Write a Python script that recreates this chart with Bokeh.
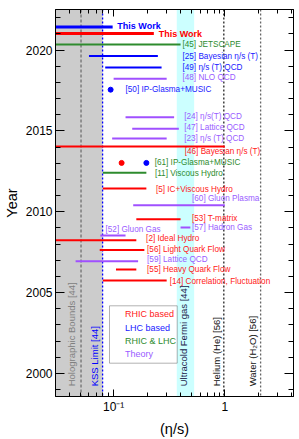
from math import pi
from bokeh.plotting import figure
from bokeh.models import (FixedTicker, CustomJSTickFormatter, LinearAxis, LogAxis,
                          BoxAnnotation, Span, Legend, LegendItem, ColumnDataSource)
from bokeh.core.properties import value
from bokeh.embed import file_html
from bokeh.resources import INLINE

# ---------------- data ----------------
entry_labels = ["This Work", "This Work", "[45] JETSCAPE", "[25] Bayesian η/s (T)",
                "[49] η/s (T) QCD", "[48] NLO QCD", "[24] η/s(T) QCD", "[47] Lattice QCD",
                "[23] η/s (T) QCD", "[46] Bayesian η/s (T)", "[11] Viscous Hydro",
                "[5] IC+Viscous Hydro", "[60] Gluon Plasma", "[53] T-matrix",
                "[57] Hadron Gas", "[52] Gluon Gas", "[2] Ideal Hydro",
                "[56] Light Quark Flow", "[59] Lattice QCD", "[55] Heavy Quark Flow",
                "[14] Correlation, Fluctuation"]
entry_groups = ["LHC", "RHIC", "BOTH", "LHC", "LHC", "TH", "TH", "TH", "TH", "RHIC",
                "BOTH", "RHIC", "TH", "RHIC", "TH", "TH", "RHIC", "RHIC", "TH", "RHIC", "RHIC"]
entry_years = [2021.43, 2021.02, 2020.35, 2019.63, 2018.92, 2018.22, 2015.85, 2015.14,
               2014.53, 2014.04, 2012.41, 2011.43, 2010.40, 2009.53, 2009.02, 2008.53,
               2008.24, 2007.63, 2006.94, 2006.42, 2005.75]
eta_s_low = [0.03, 0.03, 0.03, 0.060, 0.084, 0.100, 0.128, 0.147, 0.097, 0.03, 0.080,
             0.080, 0.150, 0.160, 0.400, 0.076, 0.03, 0.075, 0.0455, 0.105, 0.080]
eta_s_high = [0.098, 0.23, 0.40, 0.25, 0.27, 0.30, 0.35, 0.386, 0.30, 1.0, 0.197,
              0.197, 1.0, 0.40, 0.49, 0.128, 0.16, 0.189, 0.166, 0.16, 0.30]
label_eta_s = [0.108, 0.254, 0.416, 0.416, 0.416, 0.416, 0.431, 0.431, 0.431, 0.436,
               0.235, 0.240, 0.507, 0.507, 0.507, 0.0845, 0.196, 0.20, 0.20, 0.20, 0.319]
label_years = [2021.50, 2021.02, 2020.35, 2019.63, 2018.92, 2018.30, 2015.88, 2015.18,
               2014.53, 2013.71, 2012.39, 2011.38, 2010.81, 2009.59, 2009.04, 2008.93,
               2008.32, 2007.65, 2007.02, 2006.41, 2005.71]

point_groups = ["LHC", "RHIC", "LHC"]
point_years = [2017.55, 2013.02, 2013.02]
point_eta_s = [0.094, 0.118, 0.197]
point_label_texts = ["[50] IP-Glasma+MUSIC", "[61] IP-Glasma+MUSIC"]
point_label_groups = ["LHC", "BOTH"]
point_label_years = [2017.55, 2013.02]
point_label_eta_s = [0.128, 0.234]

ref_names = ["Holographic Bounds [44]", "KSS Limit [44]", "Ultracold Fermi gas [44]",
             "Helium (He) [56]", "Water (H₂O) [56]"]
ref_eta_s = [0.0509, 1.0 / (4 * pi), None, 0.98, 2.1]
fermi_gas_band = (0.37, 0.53)
ref_label_eta_s = [0.0414, 0.0675, 0.422, 0.845, 1.76]
ref_label_year = 1999.2

legend_groups = ["RHIC", "LHC", "BOTH", "TH"]
legend_names = ["RHIC based", "LHC based", "RHIC & LHC", "Theory"]

x_tick_values = [0.1, 1]
x_tick_labels = ["10⁻¹", "1"]
x_minor = [0.04, 0.05, 0.06, 0.07, 0.08, 0.09, 0.2, 0.3, 0.4, 0.5, 0.6, 0.7, 0.8, 0.9, 2, 3, 4]
y_tick_values = [2000, 2005, 2010, 2015, 2020]
y_minor = list(range(1999, 2023))

# ---------------- styles ----------------
line_colors = {"RHIC": "#ff0000", "LHC": "#0000ff", "BOTH": "#2e8b2e", "TH": "#a050ff"}
text_colors = {"RHIC": "#ff2020", "LHC": "#2020ff", "BOTH": "#2e8b2e", "TH": "#9a5cff"}
FONT = "Liberation Sans"

p = figure(width=299, height=439, x_axis_type="log", x_range=(0.03, 4.15),
           y_range=(1998.57, 2022.51), output_backend="svg", toolbar_location=None,
           min_border_left=51, min_border_right=6, min_border_top=9, min_border_bottom=39,
           background_fill_color="white", border_fill_color="white")
p.xgrid.visible = False
p.ygrid.visible = False
p.outline_line_color = "black"

# shaded regions and reference lines
p.add_layout(BoxAnnotation(right=ref_eta_s[1], fill_color="#cccccc", fill_alpha=1,
                           line_alpha=0, level="underlay"))
p.add_layout(BoxAnnotation(left=fermi_gas_band[0], right=fermi_gas_band[1],
                           fill_color="#ccffff", fill_alpha=1, line_alpha=0, level="underlay"))
span_styles = [("#555555", "3 2", 1), ("#0000ff", "2 2", 1.3), None, ("#222222", "2 2", 1.3),
               ("#666666", "2 2", 1.3)]
for v, st in zip(ref_eta_s, span_styles):
    if v is None:
        continue
    p.add_layout(Span(location=v, dimension="height", line_color=st[0], line_dash=st[1],
                      line_width=st[2], level="underlay"))

ref_colors = ["#808080", "#0000ff", "#22224a", "#111111", "#111111"]
p.text(x=ref_label_eta_s, y=[ref_label_year] * len(ref_names), text=ref_names,
       angle=pi / 2, text_align="left", text_baseline="middle",
       text_color=ref_colors, text_font=value(FONT), text_font_size="9.5px")

# horizontal ranges
seg = ColumnDataSource(dict(
    x0=eta_s_low, x1=eta_s_high, y=entry_years,
    c=[line_colors[g] for g in entry_groups],
    w=[3 if l == "This Work" else 2 for l in entry_labels]))
p.segment(x0="x0", y0="y", x1="x1", y1="y", line_color="c", line_width="w", source=seg)

# points
p.scatter(x=point_eta_s, y=point_years, size=5,
          color=[line_colors[g] for g in point_groups])

# labels
tw = [i for i, l in enumerate(entry_labels) if l == "This Work"]
other = [i for i, l in enumerate(entry_labels) if l != "This Work"]
p.text(x=[label_eta_s[i] for i in other] + point_label_eta_s,
       y=[label_years[i] for i in other] + point_label_years,
       text=[entry_labels[i] for i in other] + point_label_texts,
       text_color=[text_colors[entry_groups[i]] for i in other] +
                  [text_colors[g] for g in point_label_groups],
       text_font=value(FONT), text_font_size="8.2px", text_baseline="middle", text_align="left")
p.text(x=[label_eta_s[i] for i in tw], y=[label_years[i] for i in tw],
       text=[entry_labels[i] for i in tw],
       text_color=[line_colors[entry_groups[i]] for i in tw],
       text_font=value(FONT), text_font_size="9px", text_font_style="bold",
       text_baseline="middle", text_align="left")

# axes
xt = FixedTicker(ticks=x_tick_values, minor_ticks=x_minor)
yt = FixedTicker(ticks=y_tick_values, minor_ticks=y_minor)
xfmt = CustomJSTickFormatter(args=dict(vals=x_tick_values, labs=x_tick_labels), code="""
const i = vals.findIndex(v => Math.abs(Math.log10(v) - Math.log10(tick)) < 1e-6);
return i >= 0 ? labs[i] : '';
""")
blank = CustomJSTickFormatter(code="return '';")


def style(ax, major, minor):
    ax.major_tick_in = major
    ax.major_tick_out = 0
    ax.minor_tick_in = minor
    ax.minor_tick_out = 0
    ax.axis_line_color = "black"
    ax.major_tick_line_color = "black"
    ax.minor_tick_line_color = "black"
    ax.major_label_text_font = FONT
    ax.major_label_text_font_size = "12px"
    ax.major_label_text_color = "black"
    ax.axis_label_text_font = FONT
    ax.axis_label_text_font_style = "normal"
    ax.axis_label_text_font_size = "14.5px"
    ax.axis_label_text_color = "black"


xa = p.xaxis[0]
xa.ticker = xt
xa.formatter = xfmt
xa.axis_label = "(η/s)"
style(xa, 7, 4)
xa.major_label_standoff = 3
xa.axis_label_standoff = 4

ya = p.yaxis[0]
ya.ticker = yt
ya.axis_label = "Year"
style(ya, 9, 5)
ya.major_label_standoff = 3
ya.axis_label_standoff = 3

top = LogAxis(ticker=xt, formatter=blank)
style(top, 7, 4)
top.major_label_text_font_size = "0px"
top.major_label_standoff = 0
p.add_layout(top, "above")

right = LinearAxis(ticker=yt, formatter=blank)
style(right, 9, 5)
right.major_label_text_font_size = "0px"
right.major_label_standoff = 0
p.add_layout(right, "right")

# legend
p.add_layout(BoxAnnotation(left=54, right=121.7, bottom=33.3, top=90.7,
                           left_units="screen", right_units="screen",
                           top_units="screen", bottom_units="screen",
                           fill_color="white", fill_alpha=1, line_color="black",
                           line_width=1, level="annotation"))
entry_h = 13.3
for k, (g, name) in enumerate(zip(legend_groups, legend_names)):
    r = p.line([], [], line_color=line_colors[g], line_width=2)
    leg = Legend(items=[LegendItem(label=name, renderers=[r])],
                 location=(56, 81.7 - k * entry_h - 6.5), padding=0, margin=0, spacing=0,
                 glyph_width=8, glyph_height=13, label_height=13, label_standoff=6,
                 label_text_font=FONT, label_text_font_size="9px",
                 label_text_color=text_colors[g], border_line_alpha=0,
                 background_fill_alpha=0)
    p.add_layout(leg, "center")

open("out.html", "w").write(file_html(p, INLINE))
